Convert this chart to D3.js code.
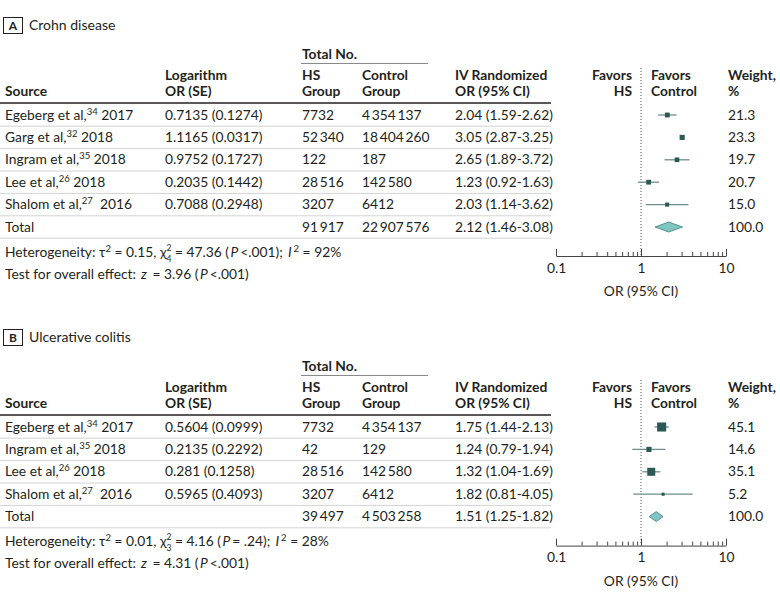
<!DOCTYPE html>
<html><head><meta charset="utf-8">
<script src="https://cdn.jsdelivr.net/npm/d3@7"></script>
<style>
body{margin:0;background:#fff;}
svg text{font-family:Lato,"Open Sans",sans-serif;font-size:13.8px;fill:#231f20;white-space:pre;}
svg .hdr{font-weight:700;}
</style></head><body>
<svg id="c" width="780" height="596"></svg>
<script>
// ---------- DATA: Crohn disease ----------
const cdAuthor = ["Egeberg et al,", "Garg et al,", "Ingram et al,", "Lee et al,", "Shalom et al,"];
const cdRef = ["34", "32", "35", "26", "27"];
const cdYear = [" 2017", " 2018", " 2018", " 2018", "  2016"];
const cdLogOR = [0.7135, 1.1165, 0.9752, 0.2035, 0.7088];
const cdSE = [0.1274, 0.0317, 0.1727, 0.1442, 0.2948];
const cdHS = [7732, 52340, 122, 28516, 3207];
const cdControl = [4354137, 18404260, 187, 142580, 6412];
const cdOR = [2.04, 3.05, 2.65, 1.23, 2.03];
const cdLow = [1.59, 2.87, 1.89, 0.92, 1.14];
const cdHigh = [2.62, 3.25, 3.72, 1.63, 3.62];
const cdWeight = [21.3, 23.3, 19.7, 20.7, 15.0];
const cdTotal = [91917, 22907576];          // HS, control
const cdTotalOR = [2.12, 1.46, 3.08];       // OR, low, high
const cdStats = ["0.15", "4", "47.36", "<.001", "92", "3.96", "<.001"]; // tau2, df, chi2, P, I2, z, P

// ---------- DATA: Ulcerative colitis ----------
const ucAuthor = ["Egeberg et al,", "Ingram et al,", "Lee et al,", "Shalom et al,"];
const ucRef = ["34", "35", "26", "27"];
const ucYear = [" 2017", " 2018", " 2018", "  2016"];
const ucLogOR = [0.5604, 0.2135, 0.281, 0.5965];
const ucSE = [0.0999, 0.2292, 0.1258, 0.4093];
const ucHS = [7732, 42, 28516, 3207];
const ucControl = [4354137, 129, 142580, 6412];
const ucOR = [1.75, 1.24, 1.32, 1.82];
const ucLow = [1.44, 0.79, 1.04, 0.81];
const ucHigh = [2.13, 1.94, 1.69, 4.05];
const ucWeight = [45.1, 14.6, 35.1, 5.2];
const ucTotal = [39497, 4503258];
const ucTotalOR = [1.51, 1.25, 1.82];
const ucStats = ["0.01", "3", "4.16", "=.24", "28", "4.31", "<.001"];

// ---------- AXIS ----------
const axisDomain = [0.1, 10];
const axisTicks = [0.1, 1, 10];
const axisTickLabels = ["0.1", "1", "10"];
const axisMinor = [0.2, 0.3, 0.4, 0.5, 0.6, 0.7, 0.8, 0.9, 2, 3, 4, 5, 6, 7, 8, 9];
const axisTitle = "OR (95% CI)";

// ---------- DRAW ----------
const svg = d3.select("#c");
const TS = "\u2009";
function fmtN(n){
  if (n < 10000) return String(n);
  return d3.format(",")(n).replace(/,/g, TS);
}
const x = d3.scaleLog().domain(axisDomain).range([556, 726]);

const C = {sq:"#2c5855", ci:"#6e8d8b", dFill:"#7fc5c1", dStroke:"#3f7f7c", sep:"#d3d3d3"};
const col = {src:5, log:165, hs:302, ctl:362, or:455, favHS:632, favC:651, w:728};
const RH = 22.4;

// segments: {t, sup, it, stack:[sup, sub]}
function richLine(g, x0, y, segs){
  let cx = x0;
  segs.forEach(s => {
    if (s.stack){
      const a = g.append("text").attr("x", cx).attr("y", y - 6).style("font-size", "8.5px").text(s.stack[0]);
      const b = g.append("text").attr("x", cx).attr("y", y + 5).style("font-size", "8.5px").text(s.stack[1]);
      cx += Math.max(a.node().getComputedTextLength(), b.node().getComputedTextLength());
      return;
    }
    if (s.it) cx += 1.5;
    const t = g.append("text").attr("x", cx).attr("y", s.sup ? y - 5 : y).text(s.t);
    if (s.sup) t.style("font-size", "9.5px");
    if (s.it) t.style("font-style", "italic");
    cx += t.node().getComputedTextLength() + (s.it ? 2 : 0);
  });
}

function drawPanel(p){
  const g = svg.append("g").attr("transform", `translate(0,${p.y0})`);
  const n = p.author.length;
  // title
  g.append("rect").attr("x", 3.5).attr("y", 17.5).attr("width", 19).attr("height", 16)
    .attr("fill", "none").attr("stroke", "#231f20").attr("stroke-width", 1);
  g.append("text").attr("class","hdr").attr("x", 13).attr("y", 30).attr("text-anchor","middle")
    .style("font-size","12px").text(p.letter);
  g.append("text").attr("x", 29).attr("y", 30).style("font-size","14px").text(p.title);

  // header
  g.append("text").attr("class","hdr").attr("x", col.hs).attr("y", 59).text("Total No.");
  g.append("line").attr("x1", 301).attr("x2", 428).attr("y1", 63.5).attr("y2", 63.5)
    .attr("stroke", "#8a8a8a").attr("stroke-width", 1);
  const h1 = 80, h2 = 96;
  const hdr = [
    [col.src, h2, "Source", "start"],
    [col.log, h1, "Logarithm", "start"], [col.log, h2, "OR (SE)", "start"],
    [col.hs, h1, "HS", "start"], [col.hs, h2, "Group", "start"],
    [col.ctl, h1, "Control", "start"], [col.ctl, h2, "Group", "start"],
    [col.or, h1, "IV Randomized", "start"], [col.or, h2, "OR (95% CI)", "start"],
    [col.favHS, h1, "Favors", "end"], [col.favHS, h2, "HS", "end"],
    [col.favC, h1, "Favors", "start"], [col.favC, h2, "Control", "start"],
    [col.w, h1, "Weight,", "start"], [col.w, h2, "%", "start"]
  ];
  hdr.forEach(d => g.append("text").attr("class","hdr").attr("x", d[0]).attr("y", d[1])
    .attr("text-anchor", d[3]).text(d[2]));
  g.append("line").attr("x1", 0).attr("x2", 551).attr("y1", 103).attr("y2", 103)
    .attr("stroke", "#231f20").attr("stroke-width", 1.6);

  const yc = i => 115 + i * RH;
  const totalY = yc(n);
  const axisY = totalY + 29;

  // dotted reference line
  g.append("line").attr("x1", x(1)).attr("x2", x(1)).attr("y1", 68).attr("y2", axisY)
    .attr("stroke", "#555").attr("stroke-width", 1).attr("stroke-dasharray", "1,2");

  // separators
  d3.range(n + 1).forEach(i => {
    g.append("line").attr("x1", 0).attr("x2", 551).attr("y1", yc(i) + 11.2).attr("y2", yc(i) + 11.2)
      .attr("stroke", C.sep).attr("stroke-width", 1);
  });

  const sizeK = p.sizeK;
  d3.range(n).forEach(i => {
    const y = yc(i), by = y + 4.5;
    richLine(g, col.src, by, [{t:p.author[i]}, {t:p.ref[i], sup:true}, {t:p.year[i]}]);
    g.append("text").attr("x", col.log).attr("y", by).text(`${p.logOR[i]} (${p.se[i]})`);
    g.append("text").attr("x", col.hs).attr("y", by).text(fmtN(p.hs[i]));
    g.append("text").attr("x", col.ctl).attr("y", by).text(fmtN(p.ctl[i]));
    g.append("text").attr("x", col.or).attr("y", by)
      .text(`${p.or[i].toFixed(2)} (${p.low[i].toFixed(2)}-${p.high[i].toFixed(2)})`);
    g.append("text").attr("x", col.w).attr("y", by).text(p.weight[i].toFixed(1));
    // CI line + square
    g.append("line").attr("x1", x(p.low[i])).attr("x2", x(p.high[i])).attr("y1", y).attr("y2", y)
      .attr("stroke", C.ci).attr("stroke-width", 1.3);
    const s = sizeK * Math.sqrt(p.weight[i]);
    g.append("rect").attr("x", x(p.or[i]) - s / 2).attr("y", y - s / 2).attr("width", s).attr("height", s)
      .attr("fill", C.sq);
  });

  // total row
  const tb = totalY + 4.5;
  g.append("text").attr("x", col.src).attr("y", tb).text("Total");
  g.append("text").attr("x", col.hs).attr("y", tb).text(fmtN(p.total[0]));
  g.append("text").attr("x", col.ctl).attr("y", tb).text(fmtN(p.total[1]));
  g.append("text").attr("x", col.or).attr("y", tb)
    .text(`${p.totalOR[0].toFixed(2)} (${p.totalOR[1].toFixed(2)}-${p.totalOR[2].toFixed(2)})`);
  g.append("text").attr("x", col.w).attr("y", tb).text("100.0");
  const dh = 5;
  const dpts = [[x(p.totalOR[1]), totalY], [x(p.totalOR[0]), totalY - dh], [x(p.totalOR[2]), totalY], [x(p.totalOR[0]), totalY + dh]];
  g.append("path").attr("d", d3.line()(dpts) + "Z").attr("fill", C.dFill).attr("stroke", C.dStroke).attr("stroke-width", 0.8);

  // heterogeneity
  const st = p.stats;
  const hy = totalY + 29.5;
  richLine(g, col.src, hy, [
    {t:"Heterogeneity: τ"}, {t:"2", sup:true}, {t:` = ${st[0]}, χ`},
    {stack:["2", st[1]]}, {t:` = ${st[2]} (`}, {t:"P", it:true},
    {t:`${st[3].replace("=", "= ")}); `}, {t:"I", it:true}, {t:"2", sup:true},
    {t:` = ${st[4]}%`}
  ]);
  richLine(g, col.src, hy + 22, [
    {t:"Test for overall effect: "}, {t:"z", it:true}, {t:` = ${st[5]} (`},
    {t:"P", it:true}, {t:`${st[6]})`}
  ]);

  // axis
  const ag = g.append("g").attr("transform", `translate(0,${axisY})`);
  ag.call(d3.axisBottom(x).tickValues(axisTicks).tickFormat((d, i) => axisTickLabels[i])
    .tickSizeInner(-7).tickSizeOuter(0).tickPadding(7));
  ag.append("g").call(d3.axisBottom(x).tickValues(axisMinor).tickFormat("").tickSizeInner(-4).tickSizeOuter(0))
    .select(".domain").remove();
  ag.selectAll("path,line").attr("stroke", "#444");
  ag.selectAll("text").style("font-family", "Lato, sans-serif").style("font-size", "13.8px").attr("fill", "#231f20");
  g.append("text").attr("x", x(1)).attr("y", axisY + 40).attr("text-anchor", "middle").text(axisTitle);
}

drawPanel({letter:"A", title:"Crohn disease", y0:0, sizeK:1.05,
  author:cdAuthor, ref:cdRef, year:cdYear, logOR:cdLogOR, se:cdSE, hs:cdHS, ctl:cdControl,
  or:cdOR, low:cdLow, high:cdHigh, weight:cdWeight, total:cdTotal, totalOR:cdTotalOR, stats:cdStats});
drawPanel({letter:"B", title:"Ulcerative colitis", y0:312, sizeK:1.35,
  author:ucAuthor, ref:ucRef, year:ucYear, logOR:ucLogOR, se:ucSE, hs:ucHS, ctl:ucControl,
  or:ucOR, low:ucLow, high:ucHigh, weight:ucWeight, total:ucTotal, totalOR:ucTotalOR, stats:ucStats});
</script>
</body></html>
